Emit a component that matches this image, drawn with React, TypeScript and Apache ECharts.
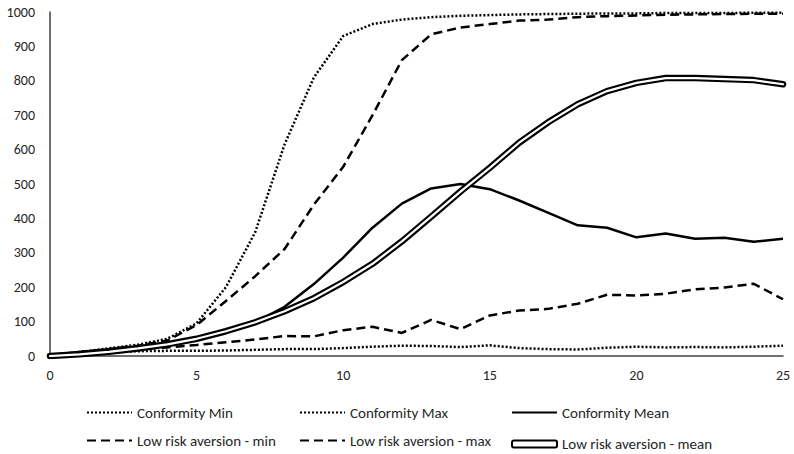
import React, { useEffect, useRef } from "react";
import * as echarts from "echarts";

const xValues = Array.from({ length: 26 }, (_, i) => i);
const conformityMin = [0, 5, 10, 14, 15, 15, 16, 18, 20, 20, 23, 27, 30, 29, 26, 31, 23, 20, 19, 24, 27, 25, 26, 25, 27, 30];
const conformityMax = [0, 12, 22, 33, 50, 95, 200, 360, 615, 810, 930, 965, 978, 985, 989, 991, 993, 994, 995, 996, 996, 997, 997, 997, 998, 998];
const conformityMean = [3, 12, 20, 28, 38, 50, 68, 98, 143, 209, 286, 373, 443, 487, 500, 485, 452, 416, 380, 373, 345, 356, 341, 344, 332, 341];
const lraMin = [0, 8, 15, 20, 25, 32, 40, 48, 58, 57, 75, 85, 67, 105, 78, 118, 132, 137, 152, 178, 176, 181, 194, 199, 210, 165];
const lraMax = [0, 10, 20, 30, 45, 90, 160, 232, 311, 440, 550, 700, 860, 935, 955, 965, 975, 978, 985, 988, 990, 992, 993, 994, 995, 995];
const lraMean = [0, 5, 12, 22, 34, 50, 72, 98, 130, 168, 215, 268, 333, 405, 478, 547, 620, 680, 732, 770, 794, 808, 808, 805, 802, 790];
const yTicks = [0, 100, 200, 300, 400, 500, 600, 700, 800, 900, 1000];

const names = [
  "Conformity Min",
  "Conformity Max",
  "Conformity Mean",
  "Low risk aversion - min",
  "Low risk aversion - max",
  "Low risk aversion - mean",
];

const FONT = 'Carlito, Lato, sans-serif';
const TXT = "#262626";

const pts = (arr: number[]) => arr.map((v, i) => [xValues[i], v]);

export default function App() {
  const ref = useRef<HTMLDivElement>(null);
  useEffect(() => {
    if (!ref.current) return;
    const chart = echarts.init(ref.current, undefined, { renderer: "svg" });
    const dotted = { color: "#000", width: 2.5, type: [2, 2] as number[] };
    const dashed = { color: "#000", width: 2.5, type: [9, 5] as number[] };
    const lineCommon = { type: "line", symbol: "none", showSymbol: false, smooth: false };
    const colLeft = [86, 299, 511];
    const rowCenter = [412, 440];
    const legends = names.map((n, i) => {
      const isDouble = i === 5;
      const h = isDouble ? 7 : 14;
      const base: any = {
        data: [n],
        left: colLeft[i % 3],
        top: rowCenter[Math.floor(i / 3)] - h / 2,
        padding: 0,
        itemWidth: 45,
        itemHeight: h,
        itemGap: 0,
        textStyle: { fontFamily: FONT, fontSize: 15, color: TXT },
        selectedMode: false,
      };
      if (isDouble) {
        base.icon = "roundRect";
        base.itemStyle = { color: "#fff", borderColor: "#000", borderWidth: 2 };
      } else {
        base.itemStyle = { color: "rgba(0,0,0,0)", borderColor: "rgba(0,0,0,0)", borderWidth: 0 };
      }
      return base;
    });
    chart.setOption({
      animation: false,
      backgroundColor: "#fff",
      grid: { left: 50, right: 11, top: 12, bottom: 98 },
      legend: legends,
      xAxis: {
        type: "value",
        min: 0,
        max: 25,
        interval: 5,
        axisLine: { show: true, lineStyle: { color: "#404040", width: 1.5 } },
        axisTick: { show: false },
        splitLine: { show: false },
        axisLabel: { fontFamily: FONT, fontSize: 14, color: TXT, margin: 12 },
      },
      yAxis: {
        type: "value",
        min: yTicks[0],
        max: yTicks[yTicks.length - 1],
        interval: 100,
        axisLine: { show: true, lineStyle: { color: "#404040", width: 1.5 } },
        axisTick: { show: false },
        splitLine: { show: false },
        axisLabel: { fontFamily: FONT, fontSize: 14, color: TXT, margin: 15, formatter: (v: number) => String(v) },
      },
      series: [
        { ...lineCommon, name: names[0], data: pts(conformityMin), lineStyle: dotted, itemStyle: { color: "#000" } },
        { ...lineCommon, name: names[1], data: pts(conformityMax), lineStyle: dotted, itemStyle: { color: "#000" } },
        { ...lineCommon, name: names[2], data: pts(conformityMean), lineStyle: { color: "#000", width: 2.5 }, itemStyle: { color: "#000" } },
        { ...lineCommon, name: names[3], data: pts(lraMin), lineStyle: dashed, itemStyle: { color: "#000" } },
        { ...lineCommon, name: names[4], data: pts(lraMax), lineStyle: dashed, itemStyle: { color: "#000" } },
        { ...lineCommon, name: names[5], data: pts(lraMean), lineStyle: { color: "#000", width: 6.5, cap: "round", join: "round" }, itemStyle: { color: "#fff", borderColor: "#000" } },
        { ...lineCommon, name: "lraMeanInner", data: pts(lraMean), lineStyle: { color: "#fff", width: 2.2, cap: "round", join: "round" }, itemStyle: { color: "#fff" } },
      ],
    });
    return () => chart.dispose();
  }, []);
  return <div ref={ref} style={{ width: 794, height: 454, position: "absolute", left: 0, top: 0 }} />;
}
